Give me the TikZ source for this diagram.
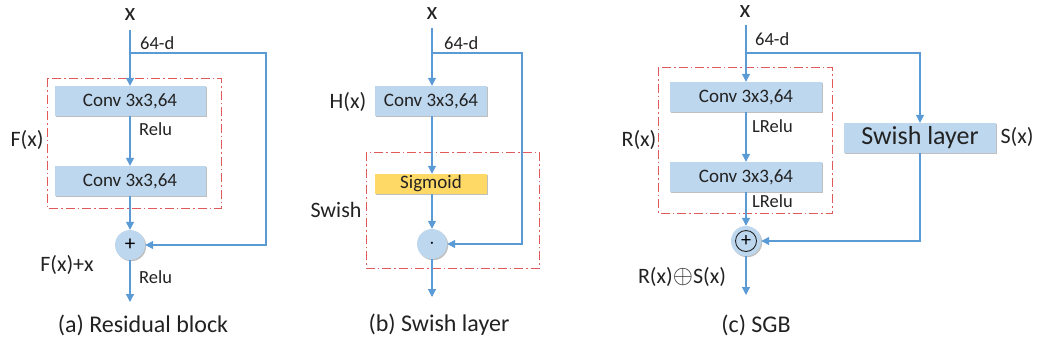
\documentclass[tikz,border=0pt]{standalone}
\usepackage{fontspec}
\setmainfont{Carlito}
\usetikzlibrary{arrows.meta,shadows}
\definecolor{lineblue}{HTML}{5B9BD5}
\definecolor{boxblue}{HTML}{BDD7EE}
\definecolor{sigy}{HTML}{FFD966}
\definecolor{dred}{HTML}{E05A5A}
\definecolor{txt}{HTML}{222222}
\begin{document}
\begin{tikzpicture}[x=1pt,y=-1pt,
  conn/.style={draw=lineblue, line width=1.2pt},
  arr/.style={conn,-{Triangle[length=8pt,width=8pt]}},
  shad/.style={drop shadow={shadow xshift=1.2pt,shadow yshift=-1.2pt,opacity=0.25,fill=black}},
  convbox/.style={fill=boxblue, draw=none, minimum width=151pt, minimum height=30pt, inner sep=0pt, text=txt, font=\fontsize{19}{21}\selectfont, shad},
  sigbox/.style={fill=sigy, draw=none, minimum width=112pt, minimum height=20pt, inner sep=0pt, text=txt, font=\fontsize{19}{21}\selectfont, shad},
  circ/.style={circle, fill=boxblue, draw=none, minimum size=30pt, inner sep=0pt, text=black, font=\fontsize{21}{23}\selectfont, shad},
  redbox/.style={draw=dred, line width=1pt, dash pattern=on 9pt off 3pt on 1.5pt off 3pt},
  small/.style={text=txt, font=\fontsize{18.5}{20}\selectfont, inner sep=0pt},
  lbl/.style={text=txt, font=\fontsize{22}{24}\selectfont, inner sep=0pt},
  xlbl/.style={text=txt, font=\fontsize{25}{27}\selectfont, inner sep=0pt},
  captxt/.style={text=txt, font=\fontsize{24}{26}\selectfont, inner sep=0pt}
]
\useasboundingbox (0,0) rectangle (1038,349);

% ---------- (a) Residual block ----------
\draw[redbox] (47,78) rectangle (221,208);
\node[xlbl] (xa) at (130,15) {x};
\coordinate (xa0) at (130,30);
\coordinate (sa) at (130,53);
\coordinate (ra) at (266,53);
\node[convbox] (ca1) at (130,101) {Conv 3x3,64};
\node[convbox] (ca2) at (130,181) {Conv 3x3,64};
\node[circ] (pa) at (130,245) {+};
\coordinate (oa) at (130,302);
\draw[conn] (xa0) -- (sa);
\draw[arr] (sa) -- (ca1.north);
\draw[arr] (ca1) -- (ca2);
\draw[arr] (ca2) -- (pa);
\draw[arr] (pa) -- (oa);
\draw[arr] (sa) -- (ra) |- (pa.east);
\node[small,anchor=west] (da) at (140,43) {64-d};
\node[small,anchor=west] (ra1) at (139,129) {Relu};
\node[small,anchor=west] (ra2) at (139,277) {Relu};
\node[lbl] (fa) at (27,140) {F(x)};
\node[lbl] (fxa) at (67,265) {F(x)+x};
\node[captxt] (capa) at (143,325) {(a) Residual block};

% ---------- (b) Swish layer ----------
\draw[redbox] (366,152) rectangle (539,268);
\node[xlbl] (xb) at (432,14) {x};
\coordinate (xb0) at (432,28);
\coordinate (sb) at (432,53);
\coordinate (rb) at (522,53);
\node[convbox, minimum width=112pt] (cb) at (431,101) {Conv 3x3,64};
\node[sigbox] (sg) at (431,184) {Sigmoid};
\node[circ] (mb) at (432,244) {$\cdot$};
\coordinate (ob) at (432,297);
\draw[conn] (xb0) -- (sb);
\draw[arr] (sb) -- (sb |- cb.north);
\draw[arr] (cb.south -| sb) -- (sb |- sg.north);
\draw[arr] (sg.south -| sb) -- (mb);
\draw[arr] (mb) -- (ob);
\draw[arr] (sb) -- (rb) |- (mb.east);
\node[small,anchor=west] (db) at (444,43) {64-d};
\node[lbl] (hb) at (348,102) {H(x)};
\node[lbl] (swb) at (336,210) {Swish};
\node[captxt] (capb) at (439,325) {(b) Swish layer};

% ---------- (c) SGB ----------
\draw[redbox] (658,67) rectangle (832,213);
\node[xlbl] (xc) at (745,12) {x};
\coordinate (xc0) at (746,25);
\coordinate (sc) at (746,53);
\coordinate (rc) at (920,53);
\node[convbox, minimum width=152pt] (cc1) at (746,97) {Conv 3x3,64};
\node[convbox, minimum width=152pt] (cc2) at (746,177) {Conv 3x3,64};
\node[circ] (pc) at (746,241) {};
\node[circle, draw=txt, line width=0.9pt, minimum size=21pt, inner sep=0pt, font=\fontsize{20}{22}\selectfont] (pcin) at (pc) {+};
\node[fill=boxblue, minimum width=152pt, minimum height=30pt, inner sep=0pt, text=txt, font=\fontsize{26}{28}\selectfont, shad] (swc) at (920,138) {Swish layer};
\coordinate (oc) at (746,295);
\draw[conn] (xc0) -- (sc);
\draw[arr] (sc) -- (cc1.north);
\draw[arr] (cc1) -- (cc2);
\draw[arr] (cc2) -- (pc);
\draw[arr] (pc) -- (oc);
\draw[arr] (sc) -- (rc) -- (swc.north);
\draw[arr] (swc.south) |- (pc.east);
\node[small,anchor=west] (dc) at (755,39) {64-d};
\node[small,anchor=west] (lr1) at (752,126) {LRelu};
\node[small,anchor=west] (lr2) at (752,201) {LRelu};
\node[lbl] (rxc) at (639,140) {R(x)};
\node[lbl] (sxc) at (1017,137) {S(x)};
\node[lbl] (rsc) at (682,277) {R(x)\raisebox{-0.02em}{\scalebox{1.25}{$\oplus$}}S(x)};
\node[captxt] (capc) at (756,325) {(c) SGB};
\end{tikzpicture}
\end{document}
